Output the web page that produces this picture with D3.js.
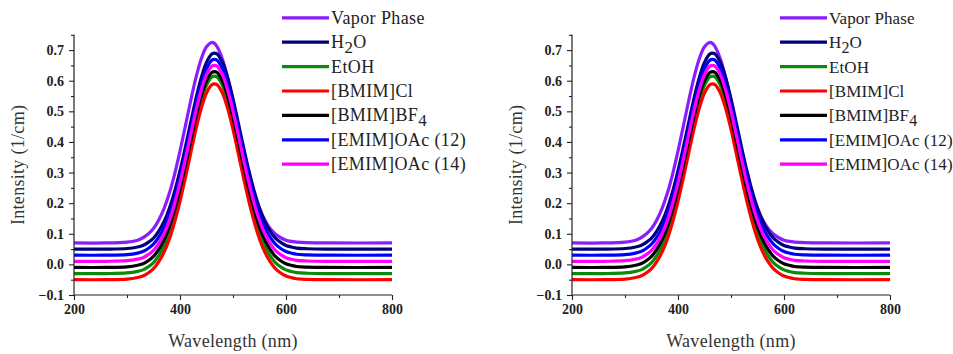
<!DOCTYPE html>
<html>
<head>
<meta charset="utf-8">
<script src="https://cdn.jsdelivr.net/npm/d3@7"></script>
<style>
  html, body { margin: 0; padding: 0; background: #fff; }
  svg { display: block; }
  .tick text { font-family: "Liberation Serif", "Times New Roman", serif; font-weight: bold; font-size: 14px; fill: #222; }
  .title { font-family: "Liberation Serif", "Times New Roman", serif; font-size: 18px; letter-spacing: 0.3px; fill: #333; }
  .legend text { font-family: "Liberation Serif", "Times New Roman", serif; fill: #222; }
</style>
</head>
<body>
<svg id="chart" width="953" height="354"></svg>
<script>
// Wavelength grid (nm) shared by all spectra
const wavelength = [200, 260, 300, 320, 330, 340, 350, 360, 370, 380, 390, 400, 410, 420, 430, 440, 450, 460, 465,
  470, 480, 490, 500, 510, 520, 530, 540, 550, 560, 570, 580, 590, 600, 610, 620, 640, 680, 800];

// Intensity (1/cm) of each medium, offset for clarity
const vaporPhase = [.070, .070, .073, .079, .087, .099, .117, .145, .183, .233, .296, .370, .451, .533, .609, .671, .711, .725, .722,
  .711, .671, .609, .533, .451, .370, .296, .233, .183, .145, .117, .099, .087, .079, .075, .073, .071, .070, .070];
const water = [.050, .050, .052, .057, .062, .072, .086, .109, .140, .183, .239, .306, .382, .462, .541, .609, .660, .687, .690,
  .687, .660, .609, .541, .462, .382, .306, .239, .183, .140, .109, .086, .072, .062, .057, .053, .051, .050, .050];
const ethanol = [-.030, -.030, -.028, -.023, -.018, -.008, .006, .029, .060, .104, .160, .228, .305, .385, .465, .533, .585, .612, .615,
  .612, .585, .533, .465, .385, .305, .228, .160, .104, .060, .029, .006, -.008, -.018, -.023, -.027, -.029, -.030, -.030];
const bmimCl = [-.050, -.050, -.048, -.043, -.038, -.028, -.014, .009, .040, .083, .139, .206, .282, .362, .441, .509, .560, .587, .590,
  .587, .560, .509, .441, .362, .282, .206, .139, .083, .040, .009, -.014, -.028, -.038, -.043, -.047, -.049, -.050, -.050];
const bmimBF4 = [-.010, -.010, -.008, -.003, .002, .012, .026, .049, .080, .123, .179, .246, .322, .402, .481, .549, .600, .627, .630,
  .627, .600, .549, .481, .402, .322, .246, .179, .123, .080, .049, .026, .012, .002, -.003, -.007, -.009, -.010, -.010];
const emimOAc12 = [.030, .030, .032, .037, .042, .052, .066, .089, .120, .163, .219, .286, .362, .442, .521, .589, .640, .667, .670,
  .667, .640, .589, .521, .442, .362, .286, .219, .163, .120, .089, .066, .052, .042, .037, .033, .031, .030, .030];
const emimOAc14 = [.010, .010, .012, .017, .022, .032, .046, .069, .100, .143, .199, .266, .342, .422, .501, .569, .620, .647, .650,
  .647, .620, .569, .501, .422, .342, .266, .199, .143, .100, .069, .046, .032, .022, .017, .013, .011, .010, .010];

// Legend labels; "_{n}" marks a subscript
const seriesLabels = ["Vapor Phase", "H_{2}O", "EtOH", "[BMIM]Cl", "[BMIM]BF_{4}", "[EMIM]OAc (12)", "[EMIM]OAc (14)"];
const seriesValues = [vaporPhase, water, ethanol, bmimCl, bmimBF4, emimOAc12, emimOAc14];
const seriesColors = ["#8a1cff", "#00007a", "#0a8a0a", "#ff0000", "#000000", "#0000ff", "#ff00ff"];

// Axis ticks
const xTicks = [200, 400, 600, 800];
const xMinorTicks = [300, 500, 700];
const yTicks = [-0.1, 0.0, 0.1, 0.2, 0.3, 0.4, 0.5, 0.6, 0.7];
const yMinorTicks = [-0.05, 0.05, 0.15, 0.25, 0.35, 0.45, 0.55, 0.65, 0.75];

const svg = d3.select("#chart");

function drawPanel(offsetX, legendFont, legendSpacing) {
  const g = svg.append("g").attr("transform", `translate(${offsetX},0)`);
  const x = d3.scaleLinear().domain([200, 800]).range([74, 392]);
  const y = d3.scaleLinear().domain([-0.1, 0.75]).range([295, 34.8]);

  // spectra
  const line = d3.line()
    .x((d, i) => x(wavelength[i]))
    .y(d => y(d))
    .curve(d3.curveCatmullRom.alpha(0.5));
  seriesValues.forEach((vals, k) => {
    g.append("path")
      .attr("d", line(vals))
      .attr("fill", "none")
      .attr("stroke", seriesColors[k])
      .attr("stroke-width", 3.2)
      .attr("stroke-linejoin", "round");
  });

  // axes
  const xAxis = g.append("g").attr("transform", `translate(0,${y(-0.1)})`)
    .call(d3.axisBottom(x).tickValues(xTicks).tickFormat(d3.format("d")).tickSize(5).tickPadding(4));
  g.append("g").attr("transform", `translate(0,${y(-0.1)})`)
    .call(d3.axisBottom(x).tickValues(xMinorTicks).tickFormat("").tickSize(3))
    .select(".domain").remove();
  const yAxis = g.append("g").attr("transform", `translate(${x(200)},0)`)
    .call(d3.axisLeft(y).tickValues(yTicks).tickFormat(d3.format(".1f")).tickSize(5).tickPadding(5));
  g.append("g").attr("transform", `translate(${x(200)},0)`)
    .call(d3.axisLeft(y).tickValues(yMinorTicks).tickFormat("").tickSize(3))
    .select(".domain").remove();
  g.selectAll(".domain").attr("stroke", "#222").attr("stroke-width", 1.2);
  g.selectAll(".tick line").attr("stroke", "#222").attr("stroke-width", 1.1);
  yAxis.select(".domain").attr("d", `M0,${y(-0.1)}V${y(0.75)}`);
  xAxis.select(".domain").attr("d", `M${x(200)},0H${x(800)}`);

  // axis titles
  g.append("text").attr("class", "title")
    .attr("x", (x(200) + x(800)) / 2).attr("y", 347)
    .attr("text-anchor", "middle").text("Wavelength (nm)");
  g.append("text").attr("class", "title")
    .attr("transform", `translate(24,${y(0.325)}) rotate(-90)`)
    .attr("text-anchor", "middle").text("Intensity (1/cm)");

  // legend
  const legend = g.append("g").attr("class", "legend")
    .style("font-size", legendFont + "px")
    .style("letter-spacing", legendSpacing + "px");
  const subShift = 4.5;
  seriesLabels.forEach((lab, k) => {
    const cy = 17.8 + k * 24.4;
    legend.append("line")
      .attr("x1", 282).attr("x2", 329).attr("y1", cy).attr("y2", cy)
      .attr("stroke", seriesColors[k]).attr("stroke-width", 3.2);
    const t = legend.append("text").attr("x", 331).attr("y", cy + 6);
    let shift = 0;
    lab.split(/(_\{[^}]*\})/).filter(s => s.length).forEach(part => {
      if (part.startsWith("_{")) {
        t.append("tspan").attr("dy", subShift - shift)
          .style("font-size", (legendFont - 1) + "px").text(part.slice(2, -1));
        shift = subShift;
      } else {
        t.append("tspan").attr("dy", -shift).text(part);
        shift = 0;
      }
    });
  });
}

drawPanel(0, 18, 0.4);
drawPanel(498, 17, 0.1);
</script>
</body>
</html>
